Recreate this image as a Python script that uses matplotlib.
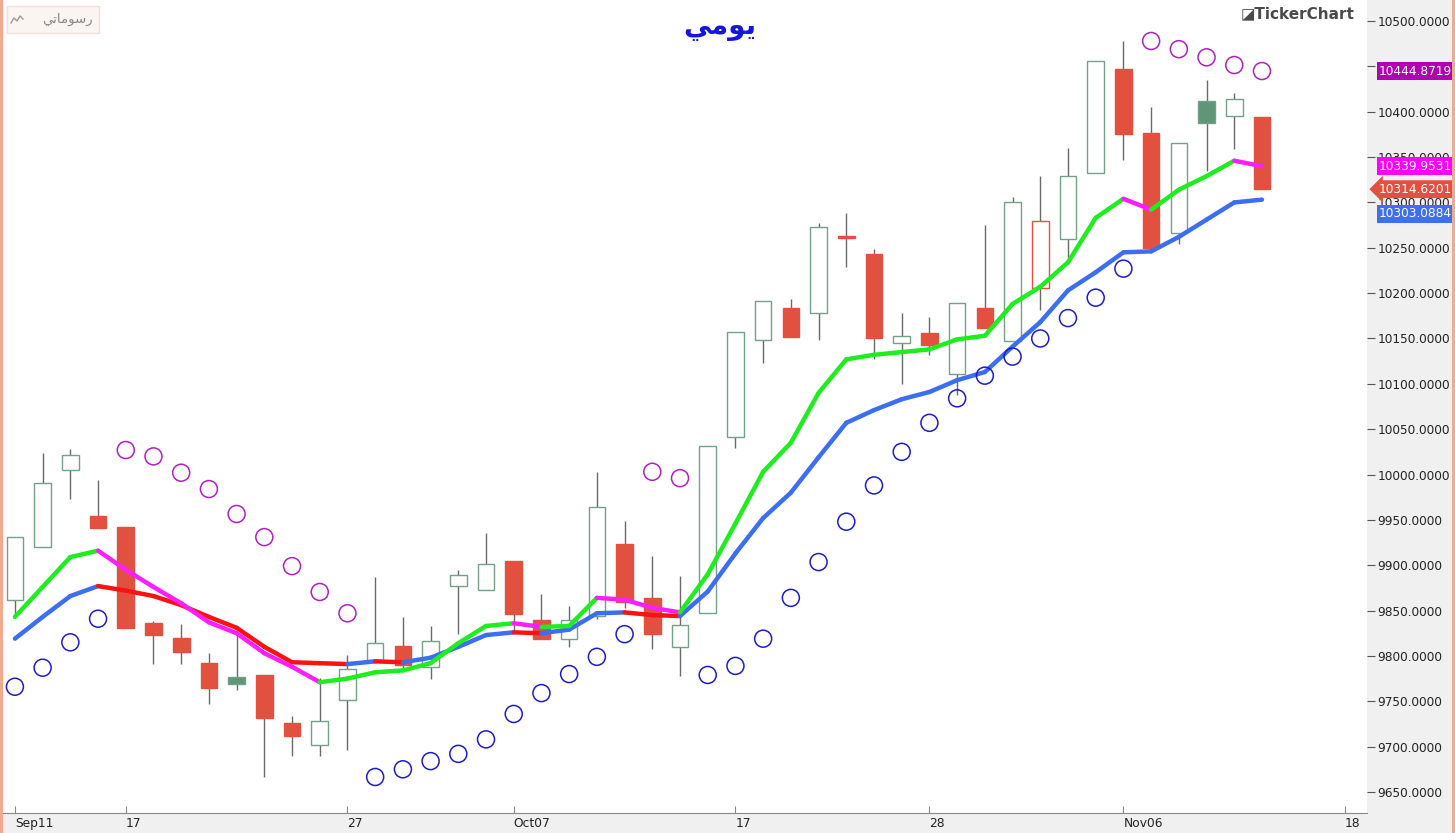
import matplotlib
matplotlib.use("Agg")
import matplotlib.pyplot as plt
from matplotlib.collections import LineCollection
from matplotlib.patches import Rectangle
from matplotlib.lines import Line2D
import numpy as np
import pandas as pd

# daily candles, business days from Sep 11
start_date = "2024-09-11"
opens = [9861.6, 9920, 10005, 9954, 9942, 9836, 9820, 9792, 9777, 9779, 9726, 9702, 9751,
         9795.5, 9811, 9788, 9877, 9873, 9905, 9840, 9819, 9844, 9923, 9864, 9810, 9847,
         10041, 10148, 10184, 10178, 10263, 10243, 10145, 10156, 10111, 10184, 10147,
         10205.6, 10260, 10332, 10447, 10376.5, 10266, 10412, 10395, 10394]
highs = [9931, 10024, 10028, 9994, 9942, 9838.5, 9835, 9803, 9825, 9779, 9734, 9776, 9801,
         9887, 9843, 9833, 9895, 9935.5, 9905, 9868, 9855, 10003, 9949, 9910, 9888, 10031,
         10157, 10191, 10193.5, 10277, 10288, 10249, 10178, 10174, 10189, 10275, 10306,
         10329, 10360, 10456, 10478, 10405, 10366, 10435, 10421, 10394]
lows = [9843, 9920, 9973, 9941, 9831, 9791, 9791, 9747, 9762, 9666.5, 9690, 9690, 9696,
        9795.5, 9784.5, 9775, 9824, 9873, 9826, 9819, 9810, 9841, 9853, 9808, 9778, 9847,
        10029, 10123, 10152, 10148, 10229, 10127, 10100, 10132, 10088, 10161.5, 10147,
        10181, 10239, 10332, 10347, 10247, 10254, 10335, 10359, 10314.62]
closes = [9931, 9991, 10021.5, 9941, 9831, 9823, 9804, 9765, 9769, 9732, 9712, 9728, 9786,
          9814, 9790, 9816, 9889, 9901, 9846, 9819, 9840, 9964, 9859, 9824, 9834, 10031,
          10157, 10191, 10152, 10273, 10261, 10150.5, 10153, 10143, 10189, 10161.5, 10300,
          10279.5, 10329, 10456, 10375, 10250, 10365.5, 10387.5, 10414, 10314.6201]

# fast / slow moving averages
ma_fast = [9843, 9876, 9909, 9916, 9895, 9876, 9858, 9837, 9825, 9803, 9788, 9771, 9775,
           9782, 9784, 9792, 9814, 9833, 9836, 9832, 9833, 9864, 9862, 9853, 9848, 9890,
           9946, 10003, 10035, 10090, 10127, 10132, 10135, 10138, 10149, 10153, 10188,
           10207, 10234, 10283, 10304, 10292, 10314, 10329, 10346, 10339.9531]
ma_slow = [9819, 9843, 9866, 9877, 9872, 9866, 9856, 9843, 9831, 9810, 9793, 9792, 9791,
           9794, 9793, 9798, 9810, 9823, 9826, 9825, 9829, 9847, 9848, 9845, 9844, 9871,
           9913, 9952, 9980, 10019, 10057, 10071, 10083, 10091, 10104, 10113, 10141,
           10168, 10203, 10223, 10245, 10246, 10262, 10281, 10300, 10303.0884]

# parabolic SAR
sar = [9766, 9787, 9815, 9841, 10027, 10020, 10002, 9984, 9956.5, 9931, 9899, 9870.5, 9847,
       9666.5, 9675, 9684, 9692, 9708, 9736, 9759, 9780, 9799, 9824, 10003, 9996,
       9779, 9789, 9819, 9864, 9903.5, 9948, 9988, 10025, 10057, 10084, 10109, 10130,
       10150, 10172.5, 10195, 10227, 10478, 10469, 10460, 10451.5, 10444.8719]

tick_dates = ["2024-09-11", "2024-09-17", "2024-09-27", "2024-10-07", "2024-10-17",
              "2024-10-28", "2024-11-06", "2024-11-18"]
tick_labels = ["Sep11", "17", "27", "Oct07", "17", "28", "Nov06", "18"]
y_ticks = list(range(9650, 10501, 50))

title_text = "ﻲﻣﻮﻳ"          # يومي
drawings_text = "ﻲﺗﺎﻣﻮﺳﺭ"    # رسوماتي

W, H = 1455, 833
fig = plt.figure(figsize=(W / 100, H / 100), dpi=100, facecolor="#f0f0f0")
ax = fig.add_axes([3 / W, (H - 813) / H, (1367 - 3) / W, 813 / H])
ax.set_facecolor("white")

o = np.array(opens); c = np.array(closes)
hi = np.array(highs); lo = np.array(lows)
x = np.arange(len(c))
dates = pd.bdate_range(start_date, periods=len(c) + 5)

RED = "#e2513f"
GREEN_EDGE = "#74a088"
GREEN_FILL = "#5e9678"

prev = np.r_[c[0], c[:-1]]
down_day = c < prev
filled = c < o
col = np.where(down_day, RED, GREEN_FILL)
edge = np.where(down_day, RED, GREEN_EDGE)
face = np.where(filled, col, "white")

ax.vlines(x, lo, hi, color="#6a6a6a", lw=1, zorder=2)
ax.bar(x, np.maximum(np.abs(c - o), 1.5), bottom=np.minimum(o, c), width=0.6,
       color=face, edgecolor=edge, linewidth=1, zorder=3)


def trend_line(vals, up, down):
    vals = np.asarray(vals)
    pts = np.column_stack([x, vals])
    segs = np.stack([pts[:-1], pts[1:]], axis=1)
    cols = [up if b >= a else down for a, b in zip(vals[:-1], vals[1:])]
    ax.add_collection(LineCollection(segs, colors=cols, linewidths=3.2,
                                     capstyle="round", zorder=4))


trend_line(ma_slow, "#3b6ef2", "#ff1111")
trend_line(ma_fast, "#1eee1e", "#ff1eff")

s = np.array(sar)
above = s > c
ax.scatter(x[above], s[above], s=150, facecolors="none", edgecolors="#b21fc0",
           linewidths=1.1, zorder=5)
ax.scatter(x[~above], s[~above], s=150, facecolors="none", edgecolors="#1c1ccf",
           linewidths=1.1, zorder=5)

ax.set_xlim(-0.43, 48.79)
ax.set_ylim(9626.8, 10523.2)

pos = [dates.get_loc(pd.Timestamp(d)) for d in tick_dates]
ax.set_xticks(pos, tick_labels)
for lbl in ax.get_xticklabels():
    lbl.set_horizontalalignment("left")
ax.tick_params(axis="x", direction="in", length=5, color="#888888", labelsize=8.8,
               labelcolor="#222222", pad=3)

ax.yaxis.tick_right()
ax.set_yticks(y_ticks, [f"{v:.4f}" for v in y_ticks])
ax.tick_params(axis="y", direction="out", length=6, color="#555555", labelsize=8.7,
               labelcolor="#222222", pad=1.5)
for sp in ["top", "left", "right"]:
    ax.spines[sp].set_visible(False)
ax.spines["bottom"].set_color("#888888")

# last value tags on the price axis
tags = [(sar[-1], "#b000b0", 0, "square"), (ma_fast[-1], "#ff00ff", 0, "square"),
        (closes[-1], RED, 0, "larrow"), (ma_slow[-1], "#3d6ff5", -14, "square")]
for v, fc, dy, style in tags:
    ax.annotate(f"{v:.4f}", xy=(1, v), xycoords=("axes fraction", "data"),
                xytext=(12, dy), textcoords="offset pixels", ha="left", va="center",
                color="white", fontsize=8.7,
                bbox=dict(boxstyle=f"{style},pad=0.2", fc=fc, ec="none"),
                zorder=10, annotation_clip=False)

# title and decorations
fig.text(0.495, 1 - 27 / H, title_text, ha="center", va="center", fontsize=20,
         fontweight="bold", color="#1515e0")
fig.text(1355 / W, 1 - 14 / H, "◪TickerChart", ha="right", va="center", fontsize=11,
         fontweight="bold", color="#4a4a4a")
fig.patches.append(Rectangle((7 / W, 1 - 33 / H), 92 / W, 27 / H, transform=fig.transFigure,
                             fc="#fbf5f2", ec="#f1dfd8", lw=1, zorder=6))
fig.text(93 / W, 1 - 19 / H, drawings_text, ha="right", va="center", fontsize=9.5,
         color="#888888", zorder=7)
fig.add_artist(Line2D(np.array([11, 14, 17, 20, 23]) / W,
                      1 - np.array([23, 18, 21, 16, 19]) / H,
                      color="#999999", lw=1, transform=fig.transFigure, zorder=7))
fig.patches.append(Rectangle((0, 0), 3 / W, 1, transform=fig.transFigure,
                             fc="#f3a98a", ec="none", zorder=6))
fig.patches.append(Rectangle((1452 / W, 0), 3 / W, 1, transform=fig.transFigure,
                             fc="#f3a98a", ec="none", zorder=6))

fig.savefig("out.png", dpi=100, facecolor=fig.get_facecolor())
